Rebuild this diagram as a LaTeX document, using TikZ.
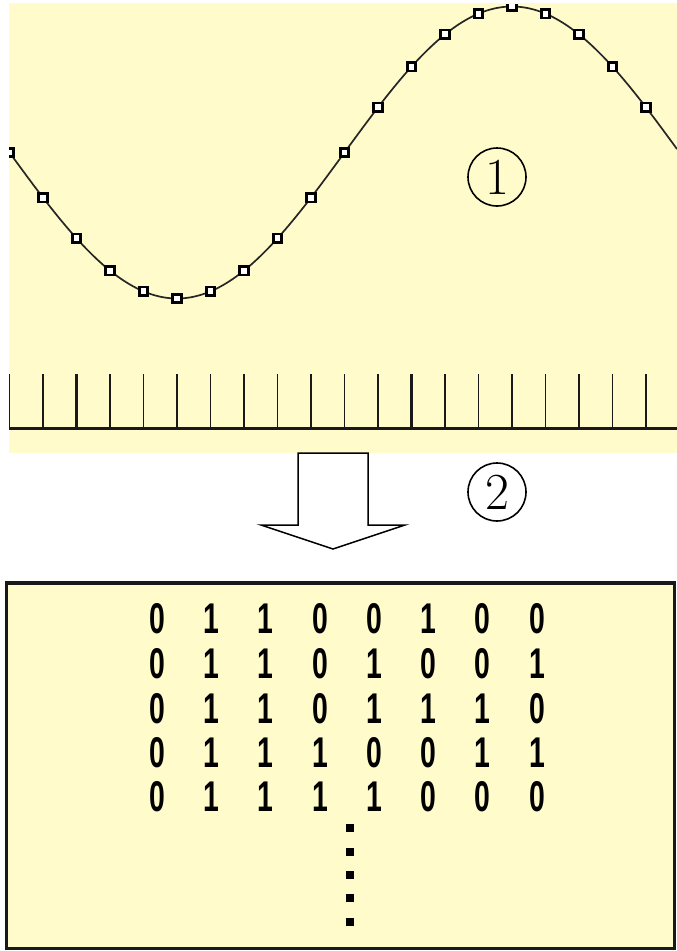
\documentclass[tikz,border=0pt]{standalone}
\usepackage{fontspec}
\newfontfamily\digitfont{Liberation Sans}
\definecolor{paper}{RGB}{255,251,202}
\tikzset{
  markbox/.style={draw=black, fill=white, line width=2.6pt, minimum size=8.5pt, inner sep=0pt, shape=rectangle},
  tickthin/.style={line width=1.3pt, black!90},
  tickthick/.style={line width=2.6pt, black!90},
  bitdigit/.style={inner sep=0pt, font=\digitfont\bfseries\fontsize{43}{43}\selectfont, xscale=0.66},
  circnum/.style={circle, draw, line width=1.6pt, minimum size=58pt, inner sep=0pt, font=\fontsize{52}{52}\selectfont},
  dotbox/.style={fill=black, minimum width=8pt, minimum height=8pt, inner sep=0pt, shape=rectangle}
}
\begin{document}
\begin{tikzpicture}[x=1pt,y=-1pt]
\useasboundingbox (0,0) rectangle (677,951);
% top panel
\fill[paper] (9,3) rectangle (677,453);
\begin{scope}
  \clip (9,4) rectangle (677,453);
  \draw[line width=1.7pt, black!85] plot[domain=9:677, samples=240, smooth] (\x, {152.5+146*cos(0.5373134*(\x-177))});
  \foreach \k in {0,...,19} {
    \pgfmathsetmacro\mx{9.5+33.5*\k}
    \pgfmathsetmacro\my{152.5+146*cos(0.5373134*(\mx-177))}
    \node[markbox] (m\k) at (\mx,\my) {};
  }
\end{scope}
% ticks
\foreach \k in {0,1,3,4,5,6,7,8,9,10,14,15,16,18,19} {
  \draw[tickthin] ({9.5+33.5*\k},374) -- ({9.5+33.5*\k},428);
}
\foreach \k in {2,11,12,13,17} {
  \draw[tickthick] ({9.5+33.5*\k},374) -- ({9.5+33.5*\k},428);
}
\draw[line width=3pt, black!90] (9,428) -- (677,428);
% circled numbers
\node[circnum] (c1) at (497,177) {1};
\node[circnum] (c2) at (497,492) {2};
% arrow
\draw[line width=1.5pt, fill=white] (298,453) -- (368,453) -- (368,525) -- (405,525) -- (333,549) -- (261,525) -- (298,525) -- cycle;
% bottom box
\draw[line width=3.5pt, draw=black!90, fill=paper] (6.5,583) rectangle (674.5,948.5);
% bits
\foreach \row/\bits [count=\r from 0] in {619/{0,1,1,0,0,1,0,0},664/{0,1,1,0,1,0,0,1},709/{0,1,1,0,1,1,1,0},753/{0,1,1,1,0,0,1,1},797/{0,1,1,1,1,0,0,0}} {
  \foreach \b [count=\c from 0] in \bits {
    \node[bitdigit] (b\r\c) at ({157+54.3*\c},\row) {\b};
  }
}
% vertical dots
\foreach \y [count=\i] in {828,852,875,898,922} {
  \node[dotbox] (d\i) at (350,\y) {};
}
\end{tikzpicture}
\end{document}
